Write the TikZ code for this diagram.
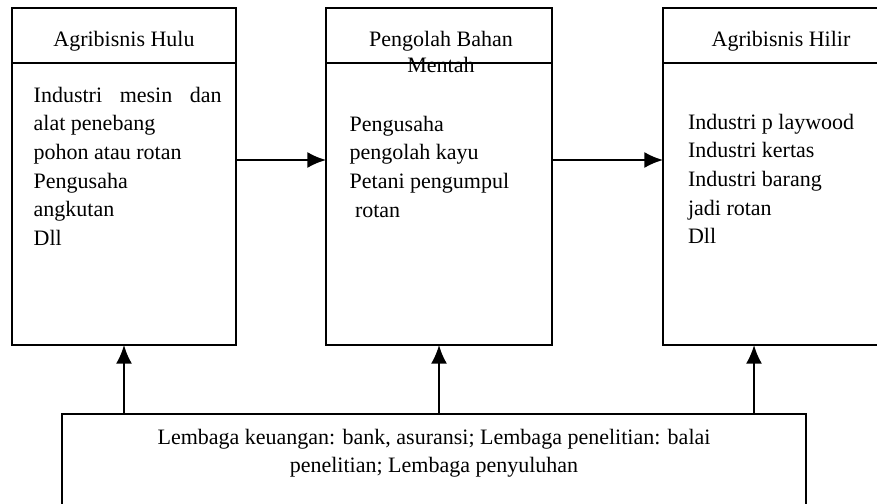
\documentclass[tikz,border=0pt]{standalone}
\usepackage{fontspec}
\setmainfont{Liberation Serif}
\usetikzlibrary{arrows.meta}

\begin{document}
\begin{tikzpicture}[x=0.75pt,y=-0.75pt,->,>={Latex[length=14pt,width=12pt]},line width=1.5pt]
      \tikzstyle{box}=[shape=rectangle,draw=black,inner sep=0pt,outer sep=0pt,minimum height=252.75pt];
      \tikzstyle{head}=[inner sep=0pt,align=center,anchor=north,font=\fontsize{16.5}{20}\selectfont];
      \tikzstyle{isi}=[inner sep=0pt,align=left,anchor=north west,font=\fontsize{16.5}{21.5}\selectfont];

      \clip (0,0) rectangle (877,503);
      \useasboundingbox (0,0) rectangle (877,503);

      \node[box,minimum width=168pt](hulu) at (124,176.5) {};
      \node[box,minimum width=169.5pt](olah) at (439,176.5) {};
      \node[box,minimum width=177pt](hilir) at (781,176.5) {};
      \node[box,minimum width=558pt,minimum height=87pt](lembaga) at (434,472) {};

      \path[-] (hulu.west |- 0,63) edge (hulu.east |- 0,63);
      \path[-] (olah.west |- 0,63) edge (olah.east |- 0,63);
      \path[-] (hilir.west |- 0,63) edge (hilir.east |- 0,63);

      \node[head](huluhead) at (124,30) {Agribisnis Hulu};
      \node[head](olahhead) at (441,30) {Pengolah Bahan\\Mentah};
      \node[head](hilirhead) at (781,30) {Agribisnis Hilir};

      \node[isi](huluisi) at (32.7,86) {\makebox[141pt][s]{Industri mesin dan}\\alat penebang\\pohon atau rotan\\Pengusaha\\angkutan\\Dll};
      \node[isi](olahisi) at (348.7,115) {Pengusaha\\pengolah kayu\\Petani pengumpul\\\hspace*{4pt}rotan};
      \node[isi](hilirisi) at (687,113) {Industri p laywood\\Industri kertas\\Industri barang\\jadi rotan\\Dll};
      \node[head,font=\fontsize{16.5}{21.5}\selectfont](lembagaisi) at (434,428) {Lembaga keuangan: bank, asuransi; Lembaga penelitian: balai\\penelitian; Lembaga penyuluhan};

      \coordinate (aras) at (0,160);
      \coordinate (kanan) at (754,0);

      \path (hulu.east |- aras) edge (olah.west |- aras);
      \path (olah.east |- aras) edge (hilir.west |- aras);
      \path (hulu.south |- lembaga.north) edge (hulu.south);
      \path (olah.south |- lembaga.north) edge (olah.south);
      \path (kanan |- lembaga.north) edge (kanan |- hilir.south);

    \end{tikzpicture}
\end{document}
